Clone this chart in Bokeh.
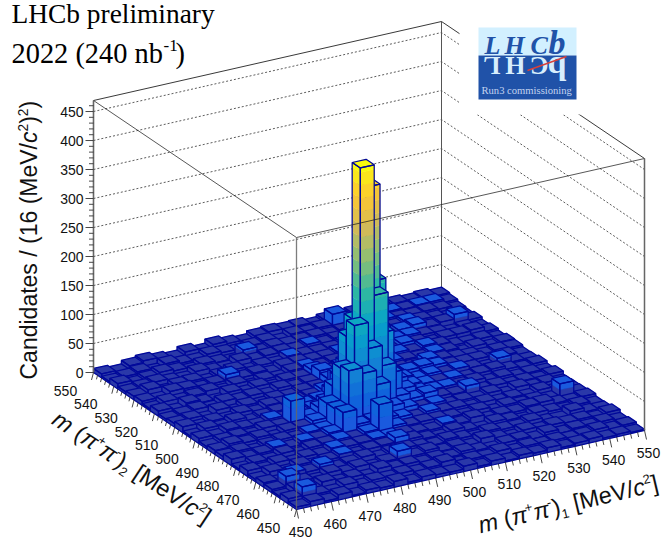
import math
from bokeh.plotting import figure
from bokeh.models import Range1d
from bokeh.core.properties import value
from bokeh.embed import file_html
from bokeh.resources import INLINE

x_ticks = [450, 460, 470, 480, 490, 500, 510, 520, 530, 540, 550]
y_ticks = [450, 460, 470, 480, 490, 500, 510, 520, 530, 540, 550]
z_ticks = [0, 50, 100, 150, 200, 250, 300, 350, 400, 450]
Z_MAX = 469.0
counts = [
 [4,8,3,9,2,6,4,10,3,7,5,4,9,3,7,2,6,4,8,3,5,7,3,4,2],
 [9,24,6,4,11,3,8,6,9,5,8,12,3,6,4,9,3,7,4,6,3,4,8,3,5],
 [3,11,5,12,6,9,4,13,8,10,6,9,5,10,6,3,8,9,4,10,3,6,4,7,3],
 [6,23,9,5,13,7,12,6,10,23,9,13,6,9,4,12,7,3,10,5,8,6,7,3,8],
 [8,4,15,10,18,6,9,14,7,12,13,10,7,12,8,4,10,7,6,11,4,3,12,5,4],
 [4,12,6,13,7,10,15,9,13,14,22,14,9,6,13,7,4,11,8,3,10,7,4,8,3],
 [10,6,13,7,12,9,16,13,14,16,15,14,11,9,15,9,14,6,9,7,12,13,6,4,7],
 [3,9,7,14,6,13,14,16,13,18,60,18,13,14,13,11,8,12,4,10,6,8,4,25,5],
 [11,7,10,15,9,15,13,18,48,22,24,22,18,12,17,12,12,7,11,6,8,4,10,3,4],
 [6,10,4,9,13,10,15,15,45,105,95,70,28,20,14,16,8,10,7,12,4,11,6,8,3],
 [7,13,9,13,7,14,14,20,45,100,168,123,88,30,20,24,13,11,20,8,10,6,7,4,8],
 [4,9,11,7,14,12,50,18,28,60,140,425,200,60,28,18,15,15,12,14,7,10,4,6,3],
 [9,6,13,10,9,15,11,15,18,25,60,155,377,120,35,20,16,14,15,10,12,14,8,4,7],
 [3,11,7,14,6,10,13,11,15,18,28,70,90,200,34,22,15,18,13,16,12,7,18,6,4],
 [10,4,9,6,12,7,14,12,12,14,20,40,35,45,26,18,20,22,18,13,12,12,6,8,3],
 [6,9,3,13,4,10,6,11,9,13,14,24,22,18,16,20,14,12,19,14,11,9,4,7,6],
 [4,7,10,6,13,9,12,7,14,10,13,28,16,14,17,12,17,14,12,16,13,4,10,3,7],
 [9,3,12,7,4,14,7,13,6,13,12,20,12,16,12,18,11,17,13,18,14,7,6,8,3],
 [3,10,6,9,12,6,13,4,10,7,14,16,11,14,11,14,17,12,18,14,8,12,12,14,6],
 [7,4,13,12,7,10,20,9,12,6,13,14,12,12,16,11,14,12,16,17,12,10,6,8,3],
 [6,12,3,9,10,4,9,13,6,10,7,15,12,11,12,16,12,16,11,17,20,11,14,22,7],
 [4,7,10,6,4,12,7,6,14,9,12,13,11,15,11,14,16,11,17,13,17,14,11,7,4],
 [9,3,7,12,9,4,10,7,4,18,9,13,11,12,14,11,13,13,11,16,13,12,14,12,6],
 [3,6,9,4,12,7,6,12,9,6,10,13,7,14,11,14,32,14,13,12,15,13,15,15,9],
 [7,4,10,13,9,6,12,7,14,10,7,12,14,12,13,9,13,11,14,12,10,14,12,14,11],
]

# --- oblique projection of the ROOT lego box, in page pixels
O = (296.0, 509.0)
EX = (348.0 / 100, -79.0 / 100)
EY = (-203.0 / 100, -137.0 / 100)
ZS = 272.0 / Z_MAX
def proj(m1, m2, z=0.0):
    a, b = m1 - 450, m2 - 450
    return (O[0] + a * EX[0] + b * EY[0], O[1] + a * EX[1] + b * EY[1] - z * ZS)

BIRD = [(0.2082,0.1664,0.5293),(0.0592,0.3599,0.8684),(0.0780,0.5041,0.8385),(0.0232,0.6419,0.7914),
        (0.1802,0.7178,0.6425),(0.5301,0.7492,0.4662),(0.8186,0.7328,0.3499),(0.9956,0.7862,0.1968),(0.9764,0.9832,0.0539)]
BAND = 22.35
BAND_OFF = 7.5
def band_of(z):
    return min(19, int((z + BAND_OFF) // BAND))
def col(k):
    if k == 0:
        return "#2a38a8"
    if k == 1:
        return "#1a5ade"
    t = (k + 1) / 20 * 8
    i = min(7, int(t)); u = t - i
    c = [BIRD[i][n] + (BIRD[i+1][n] - BIRD[i][n]) * u for n in range(3)]
    return "#%02x%02x%02x" % tuple(min(255, int(v * 255)) for v in c)

p = figure(width=662, height=544, x_range=Range1d(0, 662), y_range=Range1d(544, 0),
           toolbar_location=None, output_backend="svg", min_border=0, margin=(0, 0, 0, 0),
           background_fill_color="white", border_fill_color="white", outline_line_color=None)
p.axis.visible = False
p.grid.visible = False

# --- back walls and z grid
for z in z_ticks[1:]:
    a = proj(450, 550, z); b = proj(550, 550, z); c = proj(550, 450, z)
    p.line([a[0], b[0], c[0]], [a[1], b[1], c[1]], line_color="#333333", line_width=0.8, line_dash="2 2")
tl, tb, tr, tf = proj(450,550,Z_MAX), proj(550,550,Z_MAX), proj(550,450,Z_MAX), proj(450,450,Z_MAX)
p.line([tl[0], tb[0], tr[0]], [tl[1], tb[1], tr[1]], line_color="#222222", line_width=0.9)
bb = proj(550, 550, 0)
p.line([tb[0], bb[0]], [tb[1], bb[1]], line_color="#555555", line_width=1.0)
# white pad of the logo
p.quad(left=[459], right=[582], top=[0], bottom=[114], fill_color="white", line_color=None)

# --- bars, painted back to front
xs, ys, fc, lc, fa, lw = [], [], [], [], [], []
OUT = "#00089a"
def add_fill(poly, c):
    xs.append([q[0] for q in poly]); ys.append([q[1] for q in poly]); fc.append(c); lc.append(c); fa.append(1.0); lw.append(0.4)
def add_line(poly):
    xs.append([q[0] for q in poly]); ys.append([q[1] for q in poly]); fc.append(OUT); lc.append(OUT); fa.append(0.0); lw.append(1.25)
W = 4.0
for j in range(24, -1, -1):
    for i in range(24, -1, -1):
        h = counts[j][i]
        x0, y0 = 450 + i * W, 450 + j * W
        x1, y1 = x0 + W, y0 + W
        lo = 0.0
        while lo < h:
            kk = band_of(lo + 1e-6)
            up = min(h, (kk + 1) * BAND - BAND_OFF)
            c = col(kk)
            add_fill([proj(x0,y0,lo), proj(x0,y1,lo), proj(x0,y1,up), proj(x0,y0,up)], c)
            add_fill([proj(x0,y0,lo), proj(x1,y0,lo), proj(x1,y0,up), proj(x0,y0,up)], c)
            lo = up
        add_fill([proj(x0,y0,h), proj(x1,y0,h), proj(x1,y1,h), proj(x0,y1,h)], col(band_of(h)))
        add_line([proj(x0,y0,0), proj(x0,y1,0), proj(x0,y1,h), proj(x0,y0,h)])
        add_line([proj(x0,y0,0), proj(x1,y0,0), proj(x1,y0,h), proj(x0,y0,h)])
        add_line([proj(x0,y0,h), proj(x1,y0,h), proj(x1,y1,h), proj(x0,y1,h)])
p.patches(xs, ys, fill_color=fc, line_color=lc, fill_alpha=fa, line_width=lw)

# --- front box lines, over the bars
p.line([tl[0], tf[0], tr[0]], [tl[1], tf[1], tr[1]], line_color="#222222", line_width=0.9, line_alpha=0.85)
p.line([tf[0], O[0]], [tf[1], O[1]], line_color="#666666", line_width=1.3, line_alpha=0.85)
c0 = proj(550, 450, 0)
p.line([tr[0], c0[0]], [tr[1], c0[1]], line_color="#666666", line_width=1.5)
l0 = proj(450, 550, 0)
p.line([tl[0], l0[0]], [tl[1], l0[1]], line_color="#666666", line_width=1.6)

TXT = "#111111"
def label(x, y, s, size, font="Liberation Sans", style="normal", angle=0.0, align="left", base="alphabetic", color=TXT):
    if base == "alphabetic":   # this page's alphabetic baseline sits low by about a third of an em
        d = 0.35 * size
        x -= d * math.sin(angle); y -= d * math.cos(angle)
    p.text([x], [y], text=[s], text_font=value(font), text_font_size=value(f"{size}px"), text_font_style=style,
           angle=angle, text_align=align, text_baseline=base, text_color=color)

for z in range(0, 461, 10):
    q = proj(450, 550, z)
    n = 8 if z % 50 == 0 else 4.5
    p.line([q[0] - n, q[0]], [q[1], q[1]], line_color="#333333", line_width=0.9)
for z in z_ticks:
    q = proj(450, 550, z)
    label(q[0] - 10, q[1], str(z), 14, align="right", base="middle")
for v in range(450, 551, 2):
    q = proj(v, 450)
    n = 1.0 if (v - 450) % 10 == 0 else 0.55
    p.line([q[0], q[0] + 2.0 * n], [q[1], q[1] + 9 * n], line_color="#333333", line_width=0.9)
for v in x_ticks:
    q = proj(v, 450)
    label(q[0] + 4, q[1] + 22, str(v), 14, align="center", base="middle")
for v in range(450, 551, 2):
    q = proj(450, v)
    n = 1.0 if (v - 450) % 10 == 0 else 0.55
    p.line([q[0], q[0] - 2.0 * n], [q[1], q[1] + 7.5 * n], line_color="#333333", line_width=0.9)
for v in y_ticks:
    q = proj(450, v)
    label(q[0] - 28, q[1] + 18, str(v), 14, align="center", base="middle")

WID = {"m":.833," ":.278,"(":.333,")":.333,"π":.64,"+":.584,"-":.333,"1":.556,"2":.556,"6":.556,"[":.278,"]":.278,"M":.833,"e":.556,
       "V":.667,"/":.278,"c":.5,"C":.722,"a":.556,"n":.556,"d":.556,"i":.222,"t":.278,"s":.5}
def rich(x, y, size, angle, segs):
    ca, sa = math.cos(angle), math.sin(angle)
    for s, style, rel, up in segs:
        fs = size * rel
        lead = len(s) - len(s.lstrip(" "))
        d = lead * WID[" "] * fs
        x += d * ca; y -= d * sa
        s = s.lstrip(" ")
        u = up * size
        label(x - u * sa, y - u * ca, s, round(fs, 1), style=style, angle=angle)
        adv = sum(WID[c] for c in s) * fs
        x += adv * ca; y -= adv * sa

rich(37, 379, 23, math.pi / 2, [("Candidates / (16 (MeV/", "normal", 1, 0), ("c", "italic", 1, 0), ("2", "normal", .6, .42), (")", "normal", 1, 0), ("2", "normal", .6, .42), (")", "normal", 1, 0)])
rich(480, 533, 23.5, math.radians(13.4), [("m", "italic", 1, 0), (" (", "normal", 1, 0), ("π", "italic", 1, 0), ("+", "normal", .55, .42), ("π", "italic", 1, 0), ("-", "normal", .55, .42), (")", "normal", 1, 0), ("1", "normal", .55, -.2), (" [MeV/", "normal", 1, 0), ("c", "italic", 1, 0), ("2", "normal", .55, .42), ("]", "normal", 1, 0)])
rich(50, 423, 23.5, math.radians(-33.4), [("m", "italic", 1, 0), (" (", "normal", 1, 0), ("π", "italic", 1, 0), ("+", "normal", .55, .42), ("π", "italic", 1, 0), ("-", "normal", .55, .42), (")", "normal", 1, 0), ("2", "normal", .55, -.2), (" [MeV/", "normal", 1, 0), ("c", "italic", 1, 0), ("2", "normal", .55, .42), ("]", "normal", 1, 0)])

# --- headline
label(11, 23, "LHCb preliminary", 27.4, font="Liberation Serif", color="#000000")
label(11, 63, "2022 (240 nb", 28.4, font="Liberation Serif", color="#000000")
label(163, 51, "-1", 17, font="Liberation Serif", color="#000000")
label(175, 63, ")", 28.4, font="Liberation Serif", color="#000000")

# --- logo
p.quad(left=[478], right=[576], top=[27], bottom=[55], fill_color="#d2f0ff", line_color=None)
p.quad(left=[478], right=[576], top=[55], bottom=[99], fill_color="#2052a8", line_color=None)
for s, xx, fs in zip("LHCb", [484, 504, 530, 548], [26, 26, 26, 34]):
    label(xx, 54, s, fs, font="Liberation Serif", style="bold italic", color="#2052a8")
for s, xx, fs in zip("LHCb", [500, 525, 548, 566], [26, 26, 26, 34]):
    label(xx, 56, s, fs, font="Liberation Serif", style="bold", angle=math.pi, color="#d8eefc")
p.line([527, 566], [70, 56], line_color="#d8403a", line_width=1.4)
label(481, 94, "Run3 commissioning", 10.6, font="Liberation Serif", color="#c4d4f0")

open("out.html", "w").write(file_html(p, INLINE))
